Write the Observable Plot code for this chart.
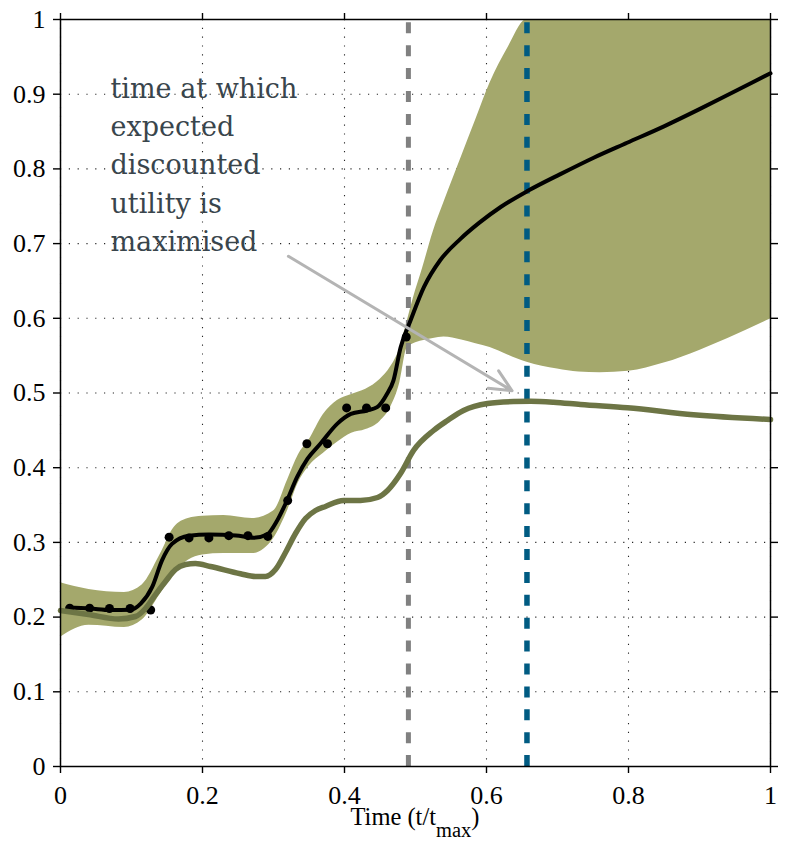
<!DOCTYPE html>
<html><head><meta charset="utf-8">
<script src="https://cdn.jsdelivr.net/npm/d3@7"></script>
<script src="https://cdn.jsdelivr.net/npm/@observablehq/plot@0.6"></script>
<style>body{margin:0;background:#fff}</style>
</head><body><div id="chart"></div>
<script>
// tick labels
const xTicks = [0, 0.2, 0.4, 0.6, 0.8, 1];
const yTicks = [0, 0.1, 0.2, 0.3, 0.4, 0.5, 0.6, 0.7, 0.8, 0.9, 1];

// observations (black dots)
const obsT = [0.013,0.041,0.069,0.098,0.127,0.153,0.181,0.209,0.237,0.264,0.292,0.320,0.347,0.376,0.403,0.431,0.458,0.487];
const obsV = [0.212,0.212,0.2115,0.2115,0.2095,0.307,0.306,0.306,0.309,0.309,0.308,0.356,0.432,0.432,0.480,0.480,0.480,0.575];

// posterior mean (black line)
const meanT = [0.01,0.042,0.07,0.099,0.113,0.129,0.143,0.157,0.181,0.209,0.247,0.272,0.291,0.305,0.319,0.333,0.348,0.366,0.390,0.409,0.432,0.446,0.460,0.469,0.479,0.493,0.512,0.535,0.563,0.59,0.62,0.659,0.704,0.751,0.798,0.85,0.9,0.95,1.0];
const meanV = [0.213,0.2115,0.2095,0.2098,0.218,0.240,0.276,0.298,0.309,0.3106,0.3092,0.3062,0.3106,0.329,0.356,0.387,0.412,0.432,0.459,0.472,0.4766,0.481,0.499,0.517,0.561,0.597,0.642,0.678,0.706,0.728,0.749,0.771,0.793,0.815,0.835,0.857,0.880,0.904,0.928];

// credible band (light olive)
const bandT  = [0,0.04,0.09,0.115,0.14,0.16,0.18,0.2,0.23,0.27,0.3,0.32,0.335,0.35,0.37,0.39,0.41,0.43,0.45,0.465,0.478,0.488,0.497,0.51,0.525,0.54,0.565,0.585,0.605,0.63,0.657,0.7,0.73,0.76,0.8,0.85,0.9,0.94,1.0];
const bandLo = [0.173,0.189,0.186,0.196,0.230,0.258,0.276,0.283,0.285,0.285,0.305,0.343,0.380,0.402,0.419,0.434,0.446,0.451,0.462,0.481,0.514,0.560,0.566,0.570,0.573,0.575,0.571,0.566,0.561,0.551,0.541,0.532,0.528,0.527,0.529,0.540,0.557,0.573,0.599];
const bandHi = [0.246,0.237,0.233,0.243,0.283,0.320,0.332,0.335,0.336,0.332,0.342,0.384,0.417,0.437,0.471,0.490,0.498,0.505,0.518,0.535,0.560,0.595,0.627,0.667,0.716,0.755,0.817,0.866,0.915,0.962,1.0,1.0,1.0,1.0,1.0,1.0,1.0,1.0,1.0];

// expected discounted utility (dark olive line)
const eduT = [0,0.0394,0.0817,0.1056,0.1197,0.1338,0.1479,0.162,0.1761,0.1901,0.2113,0.2535,0.2746,0.2887,0.3028,0.3169,0.331,0.3451,0.3592,0.3732,0.3986,0.4225,0.4465,0.4606,0.4789,0.4972,0.5254,0.5451,0.5676,0.6014,0.638,0.662,0.6944,0.7324,0.7986,0.8915,1.0];
const eduV = [0.2088,0.2035,0.1975,0.2008,0.2115,0.2302,0.2477,0.2637,0.2704,0.2718,0.2677,0.258,0.2544,0.2544,0.2637,0.2865,0.3119,0.332,0.3427,0.3481,0.3561,0.3561,0.3601,0.3695,0.3922,0.423,0.4498,0.4632,0.4766,0.4859,0.4886,0.489,0.4877,0.4846,0.4802,0.4708,0.4645];

// vertical markers
const currentTime = 0.490;
const optimalTime = 0.657;

// annotation
const annotLines = ["time at which", "expected", "discounted", "utility is", "maximised"];
const annotPos = {t: 0.0704, v: 0.809};
const arrowFrom = {t: 0.321, v: 0.683};
const arrowTo = {t: 0.636, v: 0.503};

const obs = obsT.map((t, i) => ({t, v: obsV[i]}));
const mean = meanT.map((t, i) => ({t, v: meanV[i]}));
const band = bandT.map((t, i) => ({t, lo: bandLo[i], hi: bandHi[i]}));
const edu = eduT.map((t, i) => ({t, v: eduV[i]}));

const fmt = d => String(d);
const serif = "'Liberation Serif', serif";

const plot = Plot.plot({
  width: 798, height: 855,
  marginLeft: 60, marginRight: 28, marginTop: 19, marginBottom: 89,
  style: {background: "white", color: "black", overflow: "visible"},
  x: {domain: [0, 1], ticks: xTicks, label: null},
  y: {domain: [0, 1], ticks: yTicks, label: null},
  marks: [
    Plot.gridX(xTicks, {stroke: "#000", strokeOpacity: 0.85, strokeWidth: 1.1, strokeDasharray: "1.2,7.6"}),
    Plot.gridY(yTicks, {stroke: "#000", strokeOpacity: 0.85, strokeWidth: 1.1, strokeDasharray: "1.2,7.6"}),
    Plot.areaY(band, {x: "t", y1: "lo", y2: "hi", fill: "#a4a86c", curve: "monotone-x"}),
    Plot.ruleX([currentTime], {y1: 1, y2: 0, stroke: "#808080", strokeWidth: 5, strokeDasharray: "11,11.9", strokeDashoffset: 19.6}),
    Plot.ruleX([optimalTime], {y1: 1, y2: 0, stroke: "#005b82", strokeWidth: 5.5, strokeDasharray: "11,11.9", strokeDashoffset: 19.6}),
    Plot.line(mean, {x: "t", y: "v", stroke: "black", strokeWidth: 4, curve: "monotone-x"}),
    Plot.dot(obs, {x: "t", y: "v", r: 4.5, fill: "black", stroke: "none"}),
    Plot.line(edu, {x: "t", y: "v", stroke: "#6d7545", strokeWidth: 5.5, curve: "monotone-x"}),
    Plot.arrow([0], {x1: () => arrowFrom.t, y1: () => arrowFrom.v, x2: () => arrowTo.t, y2: () => arrowTo.v,
      stroke: "#b4b4b4", strokeWidth: 3, headLength: 12, headAngle: 50}),
    Plot.text([annotLines.join("\n")], {x: () => annotPos.t, y: () => annotPos.v, text: d => d,
      textAnchor: "start", lineAnchor: "middle", lineHeight: 1.42, fontSize: 27,
      fontFamily: "DejaVu Serif", fill: "#39454c"}),
    Plot.frame({stroke: "black", strokeWidth: 1.5}),
    Plot.axisX({anchor: "bottom", ticks: xTicks, tickSize: 7, tickPadding: 12, tickFormat: fmt, label: null, strokeWidth: 1.4}),
    Plot.axisX({anchor: "top", ticks: xTicks, tickSize: 7, tickFormat: () => "", label: null, strokeWidth: 1.4}),
    Plot.axisY({anchor: "left", ticks: yTicks, tickSize: 7, tickPadding: 8, tickFormat: fmt, label: null, strokeWidth: 1.4}),
    Plot.axisY({anchor: "right", ticks: yTicks, tickSize: 7, tickFormat: () => "", label: null, strokeWidth: 1.4})
  ]
});

const svg = d3.select(plot);
// tick labels in a Times-like serif
svg.selectAll("g[aria-label$='tick label']")
  .attr("font-family", serif).attr("font-size", 26)
  .style("font-family", serif).style("font-size", "26px").style("fill", "black");
svg.selectAll("g[aria-label$='tick label'] text")
  .style("font-family", serif).style("font-size", "26px");

// x-axis title with subscript
const xs = plot.scale("x");
const lab = svg.append("text")
  .attr("x", xs.apply(0.5))
  .attr("y", 855 - 30)
  .attr("text-anchor", "middle")
  .style("font-family", serif)
  .style("font-size", "24.5px")
  .attr("fill", "black");
lab.append("tspan").text("Time (t/t");
lab.append("tspan").style("font-size", "20.5px").attr("dy", 11.5).text("max");
lab.append("tspan").attr("dy", -11.5).text(")");

document.getElementById("chart").appendChild(plot);
</script>
</body></html>
